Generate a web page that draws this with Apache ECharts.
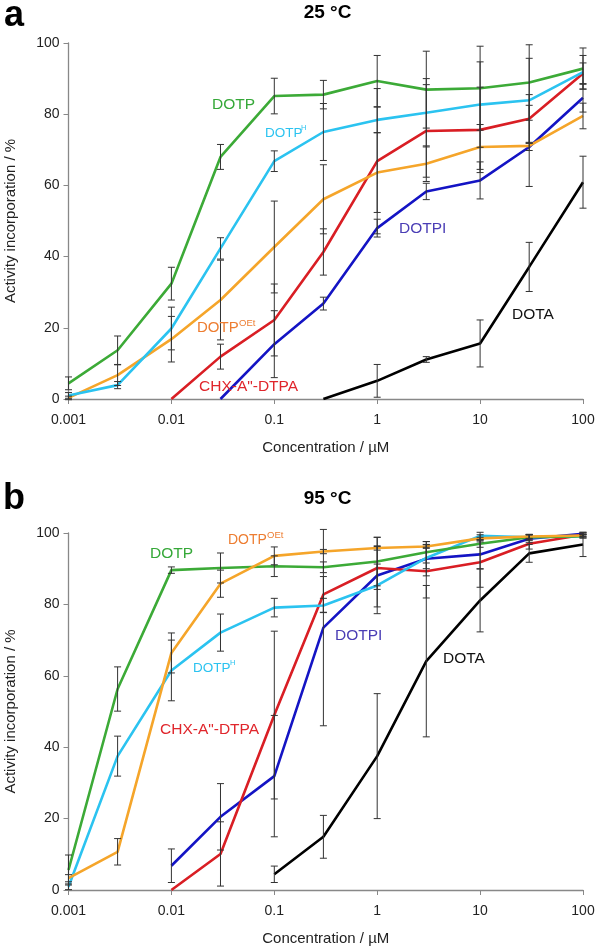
<!DOCTYPE html>
<html>
<head>
<meta charset="utf-8">
<script src="https://cdn.jsdelivr.net/npm/echarts@6/dist/echarts.min.js"></script>
<style>
html,body{margin:0;padding:0;background:#fff;}
#chart{width:596px;height:947px;}
</style>
</head>
<body>
<div id="chart"></div>
<script>
// Concentrations (µM)
const conc = [0.001, 0.003, 0.01, 0.03, 0.1, 0.3, 1, 3, 10, 30, 100];
const xTickLabels = ['0.001', '0.01', '0.1', '1', '10', '100'];

// Panel a: 25 °C — activity incorporation (%)
const dotp25     = [4.4, 13.7, 32.4, 68.0, 85.1, 85.5, 89.3, 86.9, 87.3, 88.9, 92.8];
const dotpH25    = [1.0, 3.9, 19.8, 42.3, 66.8, 75.0, 78.4, 80.4, 82.7, 83.9, 91.8];
const dotpOEt25  = [0.3, 6.7, 16.8, 27.8, 42.7, 56.1, 63.6, 66.1, 70.8, 71.1, 79.5];
const chx25      = [null, null, 0, 11.9, 22.2, 41.3, 66.8, 75.3, 75.6, 78.7, 91.4];
const dotpi25    = [null, null, null, 0, 15.4, 26.8, 48.0, 58.3, 61.4, 70.8, 84.6];
const dota25     = [null, null, null, null, null, 0, 5.1, 11.1, 15.6, 37.1, 60.9];
// Panel a error (±)
const dotp25Err    = [1.8, 4.0, 4.6, 3.5, 5.0, 4.0, 7.2, 10.8, 11.8, 10.6, 5.8];
const dotpH25Err   = [0.8, 1.0, 6.0, 3.0, 2.9, 8.0, 3.6, 9.6, 12.0, 11.8, 4.7];
const dotpOEt25Err = [0.5, 2.9, 6.4, 11.2, 12.9, 9.7, 11.2, 5.0, 6.3, 11.4, 3.6];
const chx25Err     = [null, null, null, 3.5, 10.1, 6.5, 20.4, 13.0, 12.0, 6.8, 3.0];
const dotpi25Err   = [null, null, null, null, 9.4, 1.8, 2.5, 2.3, 5.2, 1.0, 4.0];
const dota25Err    = [null, null, null, null, null, null, 4.6, 0.8, 6.6, 6.9, 7.3];

// Panel b: 95 °C — activity incorporation (%)
const dotp95     = [5.6, 56.3, 89.6, 90.2, 90.7, 90.4, 92.0, 94.6, 97.0, 98.8, 99.1];
const dotpH95    = [0.9, 37.5, 61.5, 72.1, 79.1, 79.7, 85.3, 93.0, 99.2, 98.8, 99.1];
const dotpOEt95  = [3.3, 10.7, 66.4, 85.8, 93.6, 94.8, 95.8, 96.2, 98.5, 99.0, 99.3];
const chx95      = [null, null, 0, 10.1, 49.0, 82.8, 90.2, 89.3, 91.8, 97.0, 99.5];
const dotpi95    = [null, null, 6.8, 20.5, 31.9, 73.5, 88.1, 92.8, 94.0, 98.4, 99.8];
const dota95     = [null, null, null, null, 4.4, 14.9, 37.5, 64.1, 81.1, 94.3, 96.8];
// Panel b error (±)
const dotp95Err    = [4.2, 6.2, 0.9, 4.2, 2.9, 1.5, 6.8, 3.0, 1.0, 0.8, 0.5];
const dotpH95Err   = [0.8, 5.6, 8.5, 5.2, 2.6, 2.0, 6.0, 3.0, 1.0, 0.8, 0.5];
const dotpOEt95Err = [1.0, 3.7, 5.6, 3.8, 2.5, 0.6, 0.6, 0.5, 1.0, 0.6, 0.4];
const chx95Err     = [null, null, null, 9.0, 23.5, 5.0, 6.0, 7.5, 7.0, 1.5, 0.5];
const dotpi95Err   = [null, null, 4.7, 9.3, 17.0, 27.5, 10.7, 4.8, 4.0, 1.0, 0.4];
const dota95Err    = [null, null, null, null, 2.3, 6.0, 17.5, 21.2, 8.8, 2.5, 3.4];

const C = {
  dotp: '#3caa37', dotpH: '#2bc3f0', dotpOEt: '#f5a52a',
  chx: '#d91e24', dotpi: '#1414c4', dota: '#000000'
};
const FONT = '"Liberation Sans", Arial, sans-serif';

function pairs(vals) {
  return conc.map((c, i) => vals[i] == null ? null : [c, vals[i]]).filter(Boolean);
}
function errs(vals, e) {
  return conc.map((c, i) => (vals[i] == null || e[i] == null) ? null : [c, vals[i] - e[i], vals[i] + e[i]]).filter(Boolean);
}

function lineSeries(vals, color, idx) {
  return {
    type: 'line', xAxisIndex: idx, yAxisIndex: idx, data: pairs(vals),
    showSymbol: false, symbol: 'none', smooth: false, z: 3,
    lineStyle: { color: color, width: 2.6 }, animation: false
  };
}
function errSeries(vals, e, idx) {
  return {
    type: 'custom', xAxisIndex: idx, yAxisIndex: idx, data: errs(vals, e), z: 4,
    encode: { x: 0, y: [1, 2] }, animation: false, silent: true,
    renderItem: function (params, api) {
      const x = api.value(0);
      const lo = api.coord([x, api.value(1)]);
      const hi = api.coord([x, api.value(2)]);
      const w = 3.5;
      const st = { stroke: '#333', lineWidth: 1 };
      return {
        type: 'group', children: [
          { type: 'line', shape: { x1: lo[0], y1: lo[1], x2: hi[0], y2: hi[1] }, style: st },
          { type: 'line', shape: { x1: lo[0] - w, y1: lo[1], x2: lo[0] + w, y2: lo[1] }, style: st },
          { type: 'line', shape: { x1: hi[0] - w, y1: hi[1], x2: hi[0] + w, y2: hi[1] }, style: st }
        ]
      };
    }
  };
}

function xAxis(idx) {
  return {
    type: 'log', logBase: 10, gridIndex: idx, min: 0.001, max: 100, splitNumber: 5,
    name: 'Concentration / µM', nameLocation: 'middle', nameGap: 41,
    nameTextStyle: { fontSize: 15, color: '#222', fontFamily: FONT },
    axisLine: { show: true, lineStyle: { color: '#888', width: 1.3 } },
    axisTick: { show: true, inside: false, length: 5, lineStyle: { color: '#888' } },
    minorTick: { show: false },
    splitLine: { show: false },
    axisLabel: {
      fontSize: 14, color: '#222', margin: 14, fontFamily: FONT,
      formatter: function (v) {
        const s = String(Number(Number(v).toPrecision(3)));
        return xTickLabels.indexOf(s) >= 0 ? s : '';
      }
    }
  };
}
function yAxis(idx) {
  return {
    type: 'value', gridIndex: idx, min: 0, max: 100, interval: 20,
    name: 'Activity incorporation / %', nameLocation: 'middle', nameGap: 50, nameRotate: 90,
    nameTextStyle: { fontSize: 15, color: '#222', fontFamily: FONT },
    axisLine: { show: true, lineStyle: { color: '#888', width: 1.3 } },
    axisTick: { show: true, inside: false, length: 5, lineStyle: { color: '#888' } },
    splitLine: { show: false },
    axisLabel: { fontSize: 14, color: '#222', margin: 9, fontFamily: FONT }
  };
}

function txt(str, x, y, size, color, bold, align) {
  return {
    type: 'text', x: x, y: y, z: 10,
    style: {
      text: str, fill: color, align: align || 'left', verticalAlign: 'middle',
      font: (bold ? 'bold ' : '') + size + 'px ' + FONT
    }
  };
}

const graphics = [
  txt('a', 4, 16, 36, '#000', true),
  txt('b', 3, 499, 36, '#000', true),
  txt('25 °C', 327.5, 13, 19, '#000', true, 'center'),
  txt('95 °C', 327.5, 499, 19, '#000', true, 'center'),
  // panel a labels
  txt('DOTP', 212, 105, 15.5, '#35a838'),
  txt('DOTP', 265, 133, 13.5, '#2bc3f0'),
  txt('H', 301, 128, 7.5, '#2bc3f0'),
  txt('DOTPI', 399, 229, 15.5, '#4a3db5'),
  txt('DOTP', 197, 328, 15, '#ed7d31'),
  txt('OEt', 239, 323, 9.5, '#ed7d31'),
  txt('CHX-A"-DTPA', 199, 387, 15.5, '#e0262c'),
  txt('DOTA', 512, 315, 15.5, '#111'),
  // panel b labels
  txt('DOTP', 150, 554, 15.5, '#35a838'),
  txt('DOTP', 228, 540, 14, '#ed7d31'),
  txt('OEt', 267, 535, 9.5, '#ed7d31'),
  txt('DOTP', 193, 668, 13.5, '#2bc3f0'),
  txt('H', 230, 663, 7.5, '#2bc3f0'),
  txt('CHX-A"-DTPA', 160, 730, 15.5, '#e0262c'),
  txt('DOTPI', 335, 636, 15.5, '#4a3db5'),
  txt('DOTA', 443, 659, 15.5, '#111')
];

const series = [
  lineSeries(dota25, C.dota, 0), lineSeries(dotpi25, C.dotpi, 0), lineSeries(chx25, C.chx, 0),
  lineSeries(dotpOEt25, C.dotpOEt, 0), lineSeries(dotpH25, C.dotpH, 0), lineSeries(dotp25, C.dotp, 0),
  errSeries(dotp25, dotp25Err, 0), errSeries(dotpH25, dotpH25Err, 0), errSeries(dotpOEt25, dotpOEt25Err, 0),
  errSeries(chx25, chx25Err, 0), errSeries(dotpi25, dotpi25Err, 0), errSeries(dota25, dota25Err, 0),
  lineSeries(dota95, C.dota, 1), lineSeries(dotpi95, C.dotpi, 1), lineSeries(chx95, C.chx, 1),
  lineSeries(dotpH95, C.dotpH, 1), lineSeries(dotp95, C.dotp, 1), lineSeries(dotpOEt95, C.dotpOEt, 1),
  errSeries(dotp95, dotp95Err, 1), errSeries(dotpH95, dotpH95Err, 1), errSeries(dotpOEt95, dotpOEt95Err, 1),
  errSeries(chx95, chx95Err, 1), errSeries(dotpi95, dotpi95Err, 1), errSeries(dota95, dota95Err, 1)
];

const chart = echarts.init(document.getElementById('chart'), null, { renderer: 'canvas' });
chart.setOption({
  backgroundColor: '#ffffff',
  animation: false,
  grid: [
    { left: 68.5, right: 13, top: 43, height: 356, outerBoundsMode: 'none', containLabel: false },
    { left: 68.5, right: 13, top: 533, height: 357, outerBoundsMode: 'none', containLabel: false }
  ],
  xAxis: [xAxis(0), xAxis(1)],
  yAxis: [yAxis(0), yAxis(1)],
  series: series,
  graphic: graphics
});
</script>
</body>
</html>
